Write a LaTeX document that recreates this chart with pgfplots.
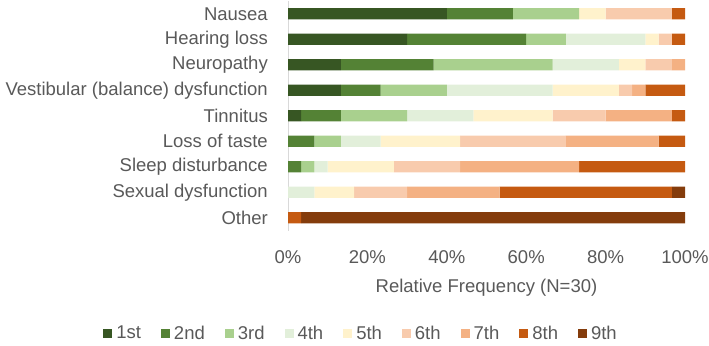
\documentclass[border=0pt]{standalone}
\usepackage{pgfplots}
\pgfplotsset{compat=1.18}
\usepackage{pgfplotstable}
\usepackage{fontspec}
\setmainfont{Liberation Sans}

% rank colours, 1st (green) to 9th (brown)
\definecolor{r1}{HTML}{375623}
\definecolor{r2}{HTML}{548235}
\definecolor{r3}{HTML}{A9D08E}
\definecolor{r4}{HTML}{E2EFDA}
\definecolor{r5}{HTML}{FFF2CC}
\definecolor{r6}{HTML}{F8CBAD}
\definecolor{r7}{HTML}{F4B183}
\definecolor{r8}{HTML}{C55A11}
\definecolor{r9}{HTML}{843C0C}
\definecolor{txt}{HTML}{595959}
\definecolor{axisgrey}{HTML}{D9D9D9}

% number of respondents (N=30) giving each rank to each side effect
\pgfplotstableread{
id r1 r2 r3 r4 r5 r6 r7 r8 r9
0  12 5  5  0  2  5  0  1  0
1  9  9  3  6  1  1  0  1  0
2  4  7  9  5  2  2  1  0  0
3  4  3  5  8  5  1  1  3  0
4  1  3  5  5  6  4  5  1  0
5  0  2  2  3  6  8  7  2  0
6  0  1  1  1  5  5  9  8  0
7  0  0  0  2  3  4  7  13 1
8  0  0  0  0  0  0  0  1  29
}\ranks

\newcommand{\chartfont}{\fontsize{18.5bp}{21bp}\selectfont}

\pgfplotsset{
  sqlegend/.style={legend image code/.code={\fill[##1] (0bp,-4.5bp) rectangle (9bp,4.5bp);}},
}

\begin{document}
\begin{tikzpicture}
\path[use as bounding box] (0bp,0bp) rectangle (709bp,346bp);
\begin{axis}[
  at={(288bp,115.5bp)}, anchor=south west,
  scale only axis, width=397bp, height=229.5bp,
  xbar stacked, bar width=11.3bp, sqlegend,
  xmin=0, xmax=30, ymin=-0.5, ymax=8.5, y dir=reverse,
  xtick={0,6,...,30},
  xticklabels={0\%,20\%,40\%,60\%,80\%,100\%},
  ytick={0,...,8},
  yticklabels={Nausea,Hearing loss,Neuropathy,Vestibular (balance) dysfunction,Tinnitus,Loss of taste,Sleep disturbance,Sexual dysfunction,Other},
  major tick length=0pt,
  separate axis lines,
  x axis line style={draw=none},
  y axis line style={draw=axisgrey, line width=0.8bp},
  axis y line*=left,
  axis x line*=bottom,
  xticklabel style={font=\chartfont, text=txt, anchor=center, yshift=-27bp, inner sep=0pt},
  yticklabel style={font=\chartfont, text=txt, anchor=east, xshift=-20bp, inner sep=0pt},
  xlabel={Relative Frequency (N=30)},
  xlabel style={font=\chartfont, text=txt, at={(axis description cs:0.5,0)}, anchor=center, yshift=-57bp},
  legend columns=9,
  legend style={at={(axis description cs:0.184,-0.447)}, anchor=center, draw=none, fill=none,
    font=\chartfont, text=txt,
    /tikz/every odd column/.append style={column sep=2bp},
    /tikz/every even column/.append style={column sep=18bp}},
]
\addplot[fill=r1, draw=none] table[x=r1, y=id] {\ranks};
\addplot[fill=r2, draw=none] table[x=r2, y=id] {\ranks};
\addplot[fill=r3, draw=none] table[x=r3, y=id] {\ranks};
\addplot[fill=r4, draw=none] table[x=r4, y=id] {\ranks};
\addplot[fill=r5, draw=none] table[x=r5, y=id] {\ranks};
\addplot[fill=r6, draw=none] table[x=r6, y=id] {\ranks};
\addplot[fill=r7, draw=none] table[x=r7, y=id] {\ranks};
\addplot[fill=r8, draw=none] table[x=r8, y=id] {\ranks};
\addplot[fill=r9, draw=none] table[x=r9, y=id] {\ranks};
\legend{1st,2nd,3rd,4th,5th,6th,7th,8th,9th}
\end{axis}
\end{tikzpicture}
\end{document}
